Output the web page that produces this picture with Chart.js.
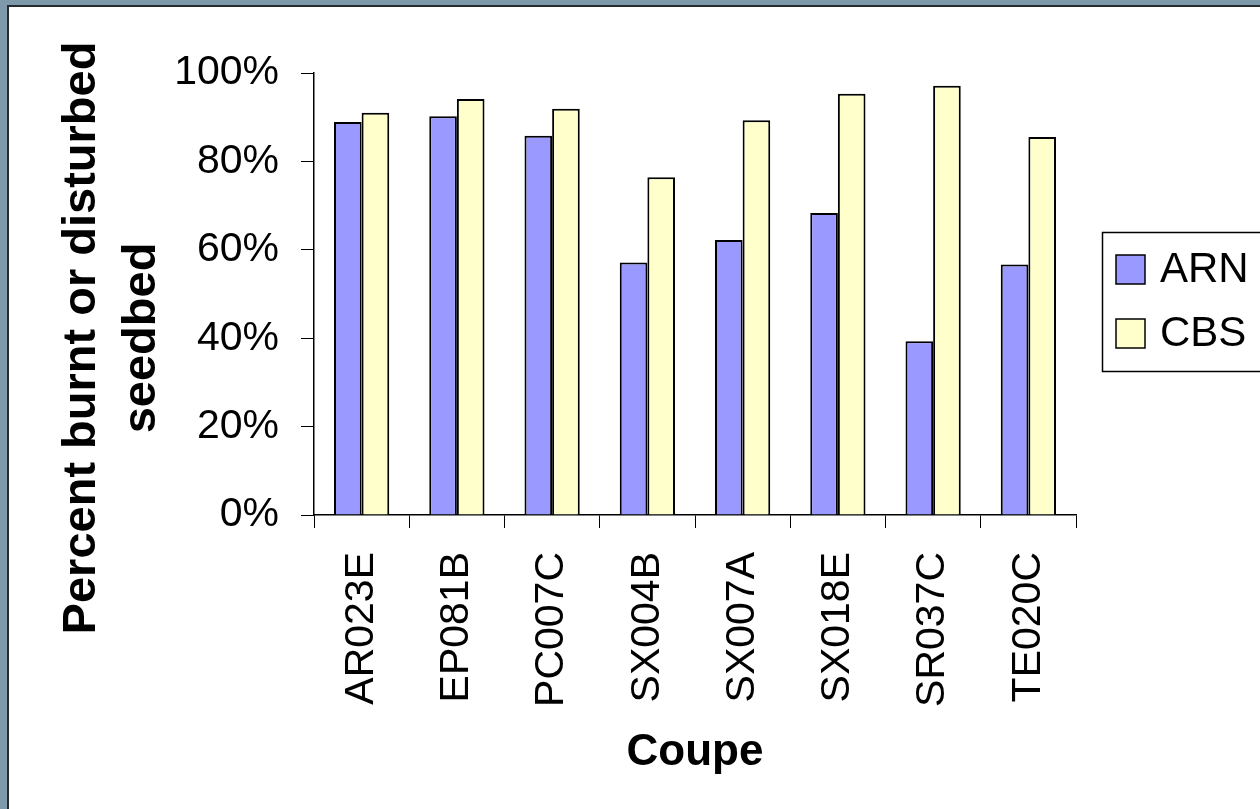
<!DOCTYPE html>
<html>
<head>
<meta charset="utf-8">
<script src="https://cdn.jsdelivr.net/npm/chart.js@4.4.1/dist/chart.umd.min.js"></script>
<style>
  html, body { margin: 0; padding: 0; width: 1260px; height: 809px; overflow: hidden; background: #7d99aa; }
  #sheet { position: absolute; left: 7px; top: 5px; width: 1280px; height: 830px; background: #fff;
           border-top: 2px solid #262b2f; border-left: 2px solid #262b2f; }
  #wrap { position: absolute; left: 0; top: 0; width: 1260px; height: 809px; }
</style>
</head>
<body>
<div id="sheet"></div>
<div id="wrap"><canvas id="myChart" width="1260" height="809"></canvas></div>
<script>
var categories = ["AR023E", "EP081B", "PC007C", "SX004B", "SX007A", "SX018E", "SR037C", "TE020C"];
var arnValues = [88.9, 90.2, 85.8, 57.1, 62.2, 68.3, 39.3, 56.7];
var cbsValues = [91.0, 94.1, 91.9, 76.4, 89.3, 95.3, 97.1, 85.5];
var yTicks = [0, 20, 40, 60, 80, 100];
var yTitle = ["Percent burnt or disturbed", "seedbed"];
var xTitle = "Coupe";

Chart.defaults.font.family = "'Liberation Sans', Arial, sans-serif";
Chart.defaults.color = "#000";

// y title sits lower than the plot centre in the original, so draw it by hand
var yTitlePlugin = {
  id: "yTitle",
  afterDraw: function (chart) {
    var ctx = chart.ctx;
    ctx.save();
    ctx.fillStyle = "#000";
    ctx.font = "bold 47px 'Liberation Sans', Arial, sans-serif";
    ctx.textAlign = "center";
    ctx.textBaseline = "alphabetic";
    var x = 95;
    yTitle.forEach(function (line) {
      ctx.save();
      ctx.translate(x, 338);
      ctx.rotate(-Math.PI / 2);
      ctx.fillText(line, 0, 0);
      ctx.restore();
      x += 60;
    });
    ctx.restore();
  },
};

// boxed legend to the right of the plot
var boxLegendPlugin = {
  id: "boxLegend",
  afterDraw: function (chart) {
    var ctx = chart.ctx;
    var left = 1102, top = 232, pitch = 64, sw = 29;
    var sets = chart.data.datasets;
    ctx.save();
    ctx.lineWidth = 1.5;
    ctx.strokeStyle = "#000";
    ctx.strokeRect(left + 0.5, top + 0.5, 250, 23 + pitch * (sets.length - 1) + sw + 23);
    ctx.font = "42px 'Liberation Sans', Arial, sans-serif";
    ctx.textBaseline = "middle";
    ctx.textAlign = "left";
    sets.forEach(function (ds, i) {
      var y = top + 23 + i * pitch;
      ctx.fillStyle = ds.backgroundColor;
      ctx.fillRect(left + 14, y, sw, sw);
      ctx.lineWidth = 1.5;
      ctx.strokeRect(left + 14, y, sw, sw);
      ctx.fillStyle = "#000";
      ctx.fillText(ds.label, left + 58, y + sw / 2 + 1);
    });
    ctx.restore();
  },
};

var ctx = document.getElementById("myChart").getContext("2d");
var myChart = new Chart(ctx, {
  type: "bar",
  data: {
    labels: categories,
    datasets: [
      {
        label: "ARN",
        data: arnValues,
        backgroundColor: "#9999ff",
        borderColor: "#000",
        borderWidth: 2,
        categoryPercentage: 0.58,
        barPercentage: 1.0,
      },
      {
        label: "CBS",
        data: cbsValues,
        backgroundColor: "#ffffcc",
        borderColor: "#000",
        borderWidth: 2,
        categoryPercentage: 0.58,
        barPercentage: 1.0,
      },
    ],
  },
  options: {
    responsive: false,
    animation: false,
    layout: {
      padding: { top: 73, right: 184, bottom: 0, left: 0 },
    },
    plugins: {
      legend: { display: false },
      tooltip: { enabled: false },
    },
    scales: {
      x: {
        grid: {
          drawOnChartArea: false,
          offset: true,
          tickLength: 13,
          tickColor: "#000",
        },
        border: { color: "#000", width: 1.5 },
        ticks: {
          minRotation: 90,
          maxRotation: 90,
          padding: 24,
          font: { size: 41 },
        },
        title: {
          display: true,
          text: xTitle,
          font: { size: 44, weight: "bold" },
          padding: { top: 0, bottom: 30 },
        },
        afterFit: function (scale) {
          scale.height = 294;
        },
      },
      y: {
        min: 0,
        max: 100,
        grid: {
          drawOnChartArea: false,
          tickLength: 13,
          tickColor: "#000",
        },
        border: { color: "#000", width: 1.5 },
        ticks: {
          padding: 22,
          font: { size: 41 },
          callback: function (v) {
            return v + "%";
          },
        },
        afterBuildTicks: function (scale) {
          scale.ticks = yTicks.map(function (v) {
            return { value: v };
          });
        },
        afterFit: function (scale) {
          scale.width = 314;
        },
      },
    },
  },
  plugins: [yTitlePlugin, boxLegendPlugin],
});
</script>
</body>
</html>
